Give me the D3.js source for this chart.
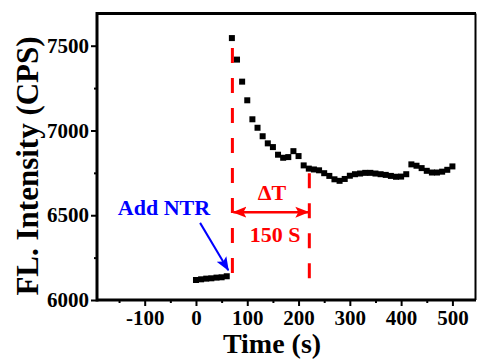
<!DOCTYPE html>
<html>
<head>
<meta charset="utf-8">
<script src="https://cdn.jsdelivr.net/npm/d3@7"></script>
<style>
  html, body { margin: 0; padding: 0; background: #fff; }
  svg { display: block; }
  svg text { font-family: "Liberation Serif", "Times New Roman", Times, serif !important; font-weight: 700; }
</style>
</head>
<body>
<svg id="chart" width="477" height="361"></svg>
<script>
// Fluorescence intensity before and after NTR addition
const baseTimes = [0, 10, 20, 30, 40, 50, 60];
const baseValues = [6118, 6122, 6126, 6128, 6132, 6134, 6140];

const respTimes = [70, 80, 90, 100, 110, 120, 130, 140, 150, 160, 170, 180, 190, 200,
  210, 220, 230, 240, 250, 260, 270, 280, 290, 300, 310, 320, 330, 340, 350,
  360, 370, 380, 390, 400, 410, 420, 430, 440, 450, 460, 470, 480, 490, 500];
const respValues = [7545, 7418, 7288, 7178, 7066, 7016, 6966, 6924, 6902, 6857, 6839, 6843, 6878, 6849,
  6794, 6775, 6770, 6765, 6748, 6732, 6712, 6703, 6714, 6733, 6742, 6746, 6750, 6750, 6746,
  6742, 6738, 6732, 6727, 6728, 6742, 6800, 6792, 6778, 6762, 6752, 6752, 6757, 6768, 6788];

const xMajorTicks = [-100, 0, 100, 200, 300, 400, 500];
const xMinorTicks = [-150, -50, 50, 150, 250, 350, 450];
const yMajorTicks = [6000, 6500, 7000, 7500];
const yMinorTicks = [6250, 6750, 7250];

// response window: NTR added at t0, signal settles by t1
const windowTimes = [71, 221];
const windowTops = [7487, 6747];
const windowBottoms = [6158, 6129];
const windowArrowLevel = 6518;
const addArrowFrom = [8, 6455];
const addArrowTo = [63, 6176];

const svg = d3.select("#chart");
const L = 97, R = 476, T = 13.5, B = 300;

const x = d3.scaleLinear().domain([-193, 546]).range([L, R]);
const y = d3.scaleLinear().domain([6000, 7690]).range([B, T]);

// frame
const frame = svg.append("g").attr("stroke", "#000").attr("fill", "none");
frame.append("line").attr("x1", L).attr("x2", R).attr("y1", T).attr("y2", T).attr("stroke-width", 3);
frame.append("line").attr("x1", R - 0.5).attr("x2", R - 0.5).attr("y1", T).attr("y2", B).attr("stroke-width", 2);

// x axis
const gx = svg.append("g").attr("transform", `translate(0,${B})`)
  .call(d3.axisBottom(x).tickValues(xMajorTicks).tickSize(6).tickPadding(4).tickFormat(d => String(d)));
const gx2 = svg.append("g").attr("transform", `translate(0,${B})`)
  .call(d3.axisBottom(x).tickValues(xMinorTicks).tickSize(3).tickFormat(""));

// y axis
const gy = svg.append("g").attr("transform", `translate(${L},0)`)
  .call(d3.axisLeft(y).tickValues(yMajorTicks).tickSize(6).tickPadding(2).tickFormat(d => String(d)));
const gy2 = svg.append("g").attr("transform", `translate(${L},0)`)
  .call(d3.axisLeft(y).tickValues(yMinorTicks).tickSize(3).tickFormat(""));

[gx, gx2, gy, gy2].forEach(g => g.select(".domain").remove());
svg.selectAll(".tick line").attr("stroke", "#000").attr("stroke-width", 2);
svg.selectAll(".tick text").style("font-size", "21px").attr("fill", "#000");

// axis lines drawn on top so corners join
svg.append("line").attr("x1", L).attr("x2", R).attr("y1", B).attr("y2", B)
  .attr("stroke", "#000").attr("stroke-width", 3);
svg.append("line").attr("x1", L).attr("x2", L).attr("y1", T - 1.5).attr("y2", B + 1.5)
  .attr("stroke", "#000").attr("stroke-width", 3);

// axis titles
svg.append("text").attr("x", 272).attr("y", 353).attr("text-anchor", "middle")
  .style("font-size", "28px").text("Time (s)");
svg.append("text").attr("transform", "translate(38,166) rotate(-90)").attr("text-anchor", "middle")
  .style("font-size", "31px").text("FL. Intensity (CPS)");

// data points
const pts = baseTimes.map((t, i) => [t, baseValues[i]])
  .concat(respTimes.map((t, i) => [t, respValues[i]]));
const sq = 6;
svg.append("g").selectAll("rect").data(pts).join("rect")
  .attr("x", d => x(d[0]) - sq / 2).attr("y", d => y(d[1]) - sq / 2)
  .attr("width", sq).attr("height", sq).attr("fill", "#000");

// dashed markers for the response window
svg.append("g").selectAll("line").data(windowTimes).join("line")
  .attr("x1", d => x(d)).attr("x2", d => x(d))
  .attr("y1", (d, i) => y(windowTops[i])).attr("y2", (d, i) => y(windowBottoms[i]))
  .attr("stroke", "#ff0000").attr("stroke-width", 3).attr("stroke-dasharray", "15,15");

// arrowheads
const defs = svg.append("defs");
function head(id, color) {
  defs.append("marker").attr("id", id).attr("viewBox", "0 -6 14 12")
    .attr("refX", 13).attr("refY", 0).attr("markerWidth", 14).attr("markerHeight", 12)
    .attr("markerUnits", "userSpaceOnUse").attr("orient", "auto-start-reverse")
    .append("path").attr("d", "M0,-5.5 L14,0 L0,5.5 L3,0 Z").attr("fill", color);
}
head("hRed", "#ff0000");
head("hBlue", "#0000ff");

svg.append("line")
  .attr("x1", x(windowTimes[0]) + 1).attr("x2", x(windowTimes[1]) - 1)
  .attr("y1", y(windowArrowLevel)).attr("y2", y(windowArrowLevel))
  .attr("stroke", "#ff0000").attr("stroke-width", 2.5)
  .attr("marker-start", "url(#hRed)").attr("marker-end", "url(#hRed)");

svg.append("text").attr("x", 272).attr("y", 199.5).attr("text-anchor", "middle")
  .style("font-size", "22px").attr("fill", "#ff0000").text("ΔT");
svg.append("text").attr("x", 275).attr("y", 241.5).attr("text-anchor", "middle")
  .style("font-size", "22px").attr("fill", "#ff0000").text((windowTimes[1] - windowTimes[0]) + " S");

// NTR addition label and arrow
svg.append("line")
  .attr("x1", x(addArrowFrom[0])).attr("y1", y(addArrowFrom[1]))
  .attr("x2", x(addArrowTo[0])).attr("y2", y(addArrowTo[1]))
  .attr("stroke", "#0000ff").attr("stroke-width", 2)
  .attr("marker-end", "url(#hBlue)");
svg.append("text").attr("x", 164).attr("y", 215).attr("text-anchor", "middle")
  .style("font-size", "22px").attr("fill", "#0000ff").text("Add NTR");
</script>
</body>
</html>
